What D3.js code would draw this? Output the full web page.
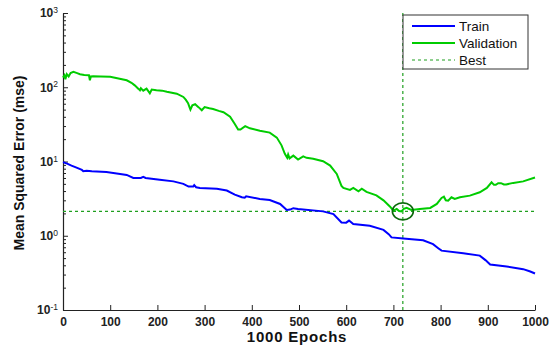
<!DOCTYPE html>
<html>
<head>
<meta charset="utf-8">
<script src="https://cdn.jsdelivr.net/npm/d3@7"></script>
<style>
  html, body { margin: 0; padding: 0; background: #fff; }
  svg { display: block; font-family: "Liberation Sans", Arial, sans-serif; }
</style>
</head>
<body>
<svg id="chart" width="549" height="347"></svg>
<script>
// values (epoch, mse)
const trainEpochs = [0, 10, 18, 30, 40, 43, 50, 61, 92, 121, 135, 149, 165, 170, 175, 205, 234, 255, 266, 276, 278, 282, 290, 326, 347, 364, 379, 385, 388, 417, 438, 460, 474, 481, 488, 498, 551, 573, 590, 600, 606, 615, 650, 679, 690, 696, 721, 763, 784, 795, 802, 848, 883, 895, 905, 940, 975, 990, 1000];
const trainMse = [9.8, 9.3, 8.8, 8.2, 7.7, 7.4, 7.5, 7.4, 7.2, 6.8, 6.6, 6.0, 6.0, 6.2, 6.0, 5.66, 5.4, 5.0, 4.6, 4.6, 4.8, 4.5, 4.4, 4.3, 4.06, 3.58, 3.3, 3.25, 3.4, 3.13, 3.03, 2.68, 2.22, 2.25, 2.35, 2.3, 2.13, 1.96, 1.51, 1.5, 1.6, 1.44, 1.36, 1.2, 1.05, 0.95, 0.92, 0.87, 0.77, 0.68, 0.63, 0.58, 0.54, 0.47, 0.41, 0.385, 0.355, 0.33, 0.31];

const valEpochs = [0, 3, 5, 8, 12, 16, 22, 30, 36, 45, 55, 57, 59, 64, 80, 100, 120, 135, 145, 152, 160, 163, 165, 170, 177, 184, 188, 198, 210, 220, 241, 255, 260, 265, 268, 270, 274, 280, 287, 294, 300, 310, 318, 330, 340, 354, 364, 371, 376, 386, 396, 417, 438, 453, 463, 470, 475, 477, 480, 488, 498, 509, 516, 530, 551, 566, 580, 590, 594, 608, 615, 626, 633, 643, 664, 679, 693, 700, 707, 712, 717, 722, 728, 738, 756, 778, 792, 802, 807, 811, 816, 823, 830, 841, 862, 883, 898, 908, 913, 917, 922, 928, 934, 939, 954, 975, 1000];
const valMse = [135, 145, 128, 150, 140, 155, 161, 155, 150, 146, 145, 124, 140, 141, 140, 138, 130, 124, 115, 106, 95, 91, 97, 90, 96, 83, 93, 91, 90, 87, 82, 74, 68, 61, 54, 50, 57, 59, 54, 49, 54, 52, 51, 48, 46, 40, 32, 27, 27, 30, 28, 26, 24.5, 21, 16.5, 12.7, 11.2, 12.4, 11, 12, 10.6, 11.7, 11.2, 10.9, 10.1, 8.8, 6.8, 4.7, 4.4, 4.15, 4.4, 3.97, 4.3, 3.9, 3.5, 3.0, 2.46, 2.18, 2.3, 2.15, 2.13, 2.3, 2.37, 2.22, 2.3, 2.37, 2.68, 3.23, 3.36, 3.0, 2.97, 3.3, 3.13, 3.3, 3.47, 3.85, 4.4, 5.25, 4.85, 4.85, 5.1, 5.1, 4.9, 4.9, 5.15, 5.4, 6.1];

const bestEpoch = 720;
const bestMse = 2.13;

const xTicks = [0, 100, 200, 300, 400, 500, 600, 700, 800, 900, 1000];
const yTicks = [0.1, 1, 10, 100, 1000];
const legendLabels = ['Train', 'Validation', 'Best'];

const svg = d3.select('#chart');

const x = d3.scaleLinear().domain([0, 1000]).range([63, 535]);
const y = d3.scaleLog().domain([0.1, 1000]).range([310, 13]);

const blue = '#0000ff';
const green = '#00cc00';
const bestGreen = '#1f9f1f';

// minor log ticks
const minorTicks = [];
for (let e = -1; e < 3; e++) {
  for (let m = 2; m <= 9; m++) minorTicks.push(m * Math.pow(10, e));
}

svg.append('g')
  .attr('transform', `translate(${x(0)},0)`)
  .call(d3.axisLeft(y).tickValues(minorTicks).tickSize(-3).tickFormat(''))
  .call(g => g.select('.domain').remove())
  .selectAll('line').attr('stroke', '#222');

const yAxis = svg.append('g')
  .attr('transform', `translate(${x(0)},0)`)
  .call(d3.axisLeft(y).tickValues(yTicks).tickSizeInner(-5).tickSizeOuter(0).tickPadding(5).tickFormat(''));

yAxis.selectAll('.tick text')
  .attr('font-size', 12)
  .attr('font-weight', 'bold')
  .attr('fill', '#222')
  .each(function (d) {
    const t = d3.select(this);
    t.append('tspan').text('10');
    t.append('tspan').attr('dy', '-0.5em').attr('font-size', 8.5).attr('font-weight', 'normal').text(Math.round(Math.log10(d)));
  });

const xAxis = svg.append('g')
  .attr('transform', `translate(0,${y(0.1)})`)
  .call(d3.axisBottom(x).tickValues(xTicks).tickSizeInner(-5).tickSizeOuter(0).tickPadding(7).tickFormat(d3.format('d')));

xAxis.selectAll('.tick text')
  .attr('font-size', 12)
  .attr('font-weight', 'bold')
  .attr('fill', '#222');

svg.selectAll('.domain').attr('stroke', '#222').attr('stroke-width', 1.2);
svg.selectAll('.tick line').attr('stroke', '#222');

// best lines
svg.append('line')
  .attr('x1', x(0)).attr('x2', x(1000))
  .attr('y1', y(bestMse)).attr('y2', y(bestMse))
  .attr('stroke', bestGreen).attr('stroke-width', 1.2).attr('stroke-dasharray', '3,3');
svg.append('line')
  .attr('x1', x(bestEpoch)).attr('x2', x(bestEpoch))
  .attr('y1', y(1000)).attr('y2', y(0.1))
  .attr('stroke', bestGreen).attr('stroke-width', 1.2).attr('stroke-dasharray', '3,3');

const line = d3.line().x(d => x(d[0])).y(d => y(d[1]));

svg.append('path')
  .datum(trainEpochs.map((e, i) => [e, trainMse[i]]))
  .attr('fill', 'none').attr('stroke', blue).attr('stroke-width', 2)
  .attr('d', line);

svg.append('path')
  .datum(valEpochs.map((e, i) => [e, valMse[i]]))
  .attr('fill', 'none').attr('stroke', green).attr('stroke-width', 2)
  .attr('d', line);

// best marker
svg.append('ellipse')
  .attr('cx', x(bestEpoch)).attr('cy', y(bestMse))
  .attr('rx', 10.5).attr('ry', 8.5)
  .attr('fill', 'none').attr('stroke', '#0a6a0a').attr('stroke-width', 1.6);

// legend
const legend = svg.append('g').attr('transform', 'translate(403,15)');
legend.append('rect')
  .attr('width', 125).attr('height', 54)
  .attr('fill', '#fff').attr('stroke', '#333').attr('stroke-width', 1);

const legendStyles = [
  { color: blue, dash: null, w: 2 },
  { color: green, dash: null, w: 2 },
  { color: bestGreen, dash: '3,3', w: 1.2 }
];
legendLabels.forEach((label, i) => {
  const ly = 11 + i * 17;
  legend.append('line')
    .attr('x1', 9).attr('x2', 52).attr('y1', ly).attr('y2', ly)
    .attr('stroke', legendStyles[i].color)
    .attr('stroke-width', legendStyles[i].w)
    .attr('stroke-dasharray', legendStyles[i].dash);
  legend.append('text')
    .attr('x', 56).attr('y', ly).attr('dy', '0.35em')
    .attr('font-size', 13.5).attr('fill', '#111')
    .text(label);
});

// axis titles
svg.append('text')
  .attr('x', 297).attr('y', 342)
  .attr('text-anchor', 'middle')
  .attr('font-size', 15).attr('font-weight', 'bold').attr('letter-spacing', 0.8)
  .attr('fill', '#111')
  .text('1000 Epochs');

svg.append('text')
  .attr('transform', 'translate(24,163) rotate(-90)')
  .attr('text-anchor', 'middle')
  .attr('font-size', 14).attr('font-weight', 'bold')
  .attr('fill', '#111')
  .text('Mean Squared Error (mse)');
</script>
</body>
</html>
